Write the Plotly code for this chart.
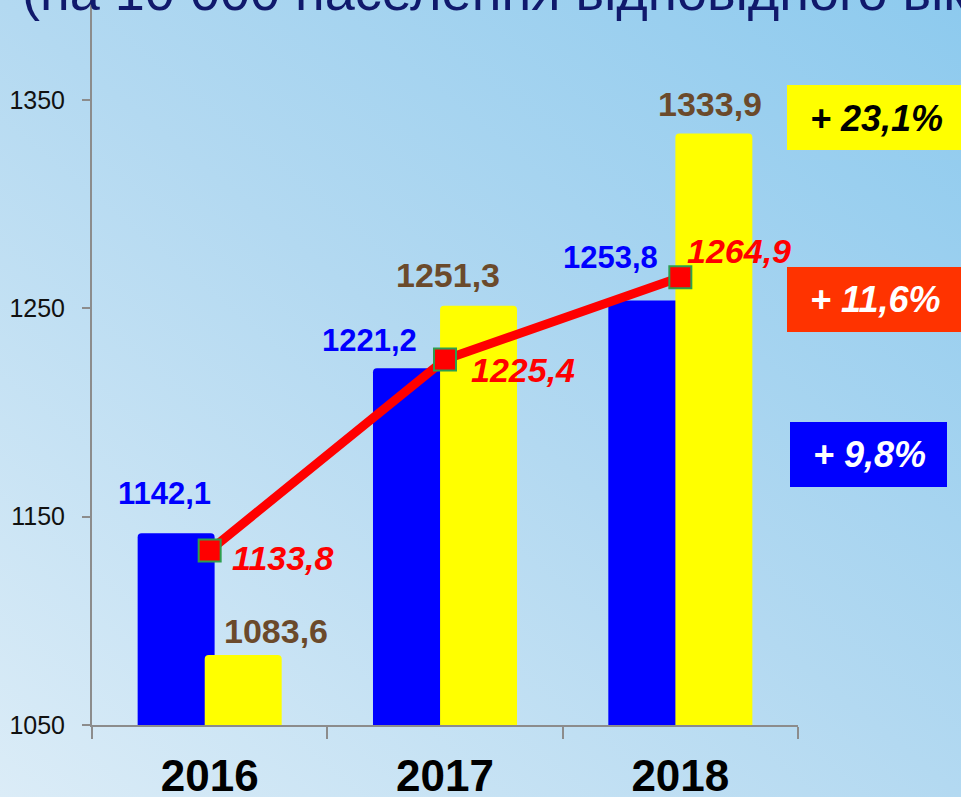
import base64
import plotly.graph_objects as go

# ---- data ----
years = ["2016", "2017", "2018"]
blue_values = [1142.1, 1221.2, 1253.8]
yellow_values = [1083.6, 1251.3, 1333.9]
line_values = [1133.8, 1225.4, 1264.9]
growth_labels = ["+ 23,1%", "+ 11,6%", "+ 9,8%"]
title_text = "(на 10 000 населення відповідного віку)"
y_ticks = [1050, 1150, 1250, 1350]

# ---- styling / layout helpers ----
W, H = 961, 797
M_L, M_R, M_T, M_B = 92, 163, 0, 72
PW, PH = W - M_L - M_R, H - M_T - M_B
Y_MIN, Y_MAX = 1050, 1398

BLUE = "#0000FF"
YELLOW = "#FFFF00"
RED = "#FF0000"
BROWN = "#6B4A2B"
FONT = "Liberation Sans, Arial, sans-serif"

BAR_W = 0.327
BLUE_OFF = -0.306
YELLOW_OFF = -0.021


def fmt(v):
    return f"{v:.1f}".replace(".", ",")


def px_x(p):
    return (p - M_L) / PW


def px_y(p):
    return (H - M_B - p) / PH


# soft diagonal gradient for the background
svg = (
    f'<svg xmlns="http://www.w3.org/2000/svg" width="{W}" height="{H}" '
    f'preserveAspectRatio="none" viewBox="0 0 {W} {H}">'
    '<defs><linearGradient id="g" x1="0" y1="1" x2="1" y2="0">'
    '<stop offset="0" stop-color="#dbecf7"/>'
    '<stop offset="0.5" stop-color="#b3d9f1"/>'
    '<stop offset="1" stop-color="#8dcaee"/>'
    '</linearGradient></defs>'
    f'<rect width="{W}" height="{H}" fill="url(#g)"/></svg>'
)
bg_src = "data:image/svg+xml;base64," + base64.b64encode(svg.encode()).decode()

fig = go.Figure()

fig.add_trace(go.Bar(
    x=years, y=blue_values, width=BAR_W, offset=BLUE_OFF,
    marker=dict(color=BLUE, line=dict(width=0), cornerradius=4),
    hoverinfo="y", showlegend=False,
))
fig.add_trace(go.Bar(
    x=years, y=yellow_values, width=BAR_W, offset=YELLOW_OFF,
    marker=dict(color=YELLOW, line=dict(width=0), cornerradius=4),
    hoverinfo="y", showlegend=False,
))
fig.add_trace(go.Scatter(
    x=years, y=line_values, mode="lines+markers",
    line=dict(color=RED, width=9),
    marker=dict(symbol="square", size=22, color=RED,
                line=dict(color="#2E9E4E", width=2)),
    hoverinfo="y", showlegend=False,
))

annotations = []

# value labels (pixel nudges per point)
blue_shift = [(-45, 40), (-76, 28), (-70, 43)]
yellow_shift = [(66, 24), (3, 31), (30, 30)]
line_shift = [(73, -8), (78, -10), (59, 26)]

for i, v in enumerate(blue_values):
    dx, dy = blue_shift[i]
    annotations.append(dict(
        x=i, y=v, xref="x", yref="y", text=f"<b>{fmt(v)}</b>",
        showarrow=False, xshift=dx, yshift=dy,
        font=dict(family=FONT, size=31, color=BLUE),
    ))
for i, v in enumerate(yellow_values):
    dx, dy = yellow_shift[i]
    annotations.append(dict(
        x=i, y=v, xref="x", yref="y", text=f"<b>{fmt(v)}</b>",
        showarrow=False, xshift=dx, yshift=dy,
        font=dict(family=FONT, size=34, color=BROWN),
    ))
for i, v in enumerate(line_values):
    dx, dy = line_shift[i]
    annotations.append(dict(
        x=i, y=v, xref="x", yref="y", text=f"<b><i>{fmt(v)}</i></b>",
        showarrow=False, xshift=dx, yshift=dy,
        font=dict(family=FONT, size=34, color=RED),
    ))

# growth boxes on the right
boxes = [
    dict(x0=787, x1=975, y0=85, y1=150, fill=YELLOW, txt="#000000", cx=876, cy=118),
    dict(x0=787, x1=975, y0=267, y1=332, fill="#FF3300", txt="#FFFFFF", cx=875, cy=299),
    dict(x0=790, x1=947, y0=422, y1=487, fill=BLUE, txt="#FFFFFF", cx=869, cy=455),
]
shapes = []
for b, label in zip(boxes, growth_labels):
    shapes.append(dict(
        type="rect", xref="paper", yref="paper",
        x0=px_x(b["x0"]), x1=px_x(b["x1"]), y0=px_y(b["y1"]), y1=px_y(b["y0"]),
        fillcolor=b["fill"], line=dict(width=0), layer="above",
    ))
    annotations.append(dict(
        x=px_x(b["cx"]), y=px_y(b["cy"]), xref="paper", yref="paper",
        text=f"<b><i>{label}</i></b>", showarrow=False,
        xanchor="center", yanchor="middle",
        font=dict(family=FONT, size=36, color=b["txt"]),
    ))

# heading running off the top edge
annotations.append(dict(
    x=px_x(20), y=1, xref="paper", yref="paper", text=title_text,
    showarrow=False, xanchor="left", yanchor="bottom", yshift=-23,
    font=dict(family=FONT, size=54, color="#10196C"),
))

fig.update_layout(
    width=W, height=H,
    margin=dict(l=M_L, r=M_R, t=M_T, b=M_B, pad=0, autoexpand=False),
    barmode="overlay",
    paper_bgcolor="#b5d9f0",
    plot_bgcolor="rgba(0,0,0,0)",
    images=[dict(
        source=bg_src, xref="paper", yref="paper",
        x=px_x(0), y=px_y(0), sizex=W / PW, sizey=H / PH,
        xanchor="left", yanchor="top", sizing="stretch", layer="below",
    )],
    shapes=shapes,
    annotations=annotations,
    xaxis=dict(
        type="category", range=[-0.5, 2.5], tickson="boundaries",
        automargin=False,
        showline=True, linecolor="#8C8C8C", linewidth=2,
        ticks="outside", ticklen=12, tickwidth=2, tickcolor="#8C8C8C",
        showgrid=False, zeroline=False, ticklabelstandoff=11,
        tickfont=dict(family=FONT, size=44, color="#000000"),
        tickprefix="<b>", ticksuffix="</b>",
    ),
    yaxis=dict(
        range=[Y_MIN, Y_MAX], tickvals=y_ticks, automargin=False,
        showline=True, linecolor="#8C8C8C", linewidth=2,
        ticks="outside", ticklen=8, tickwidth=2, tickcolor="#8C8C8C",
        showgrid=False, zeroline=False, ticklabelstandoff=12,
        tickfont=dict(family=FONT, size=25, color="#111111"),
    ),
)

fig.write_html("out.html")
